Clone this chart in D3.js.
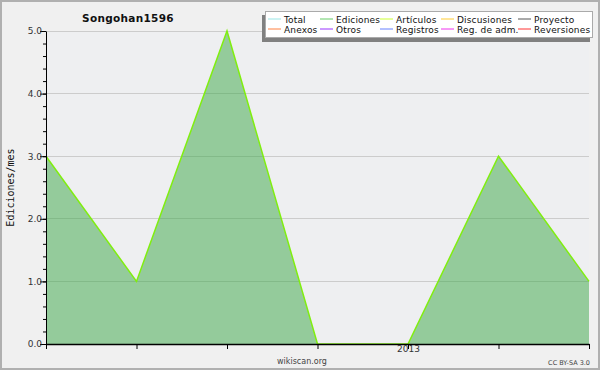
<!DOCTYPE html>
<html>
<head>
<meta charset="utf-8">
<script src="https://cdn.jsdelivr.net/npm/d3@7"></script>
<style>
  body { margin: 0; background: #f0f0f0; }
  svg { display: block; font-family: "DejaVu Sans", sans-serif; }
</style>
</head>
<body>
<div id="chart"></div>
<script>
// data
var months = ["2012-09", "2012-10", "2012-11", "2012-12", "2013-01", "2013-02", "2013-03"];
var edits = [3, 1, 5, 0, 0, 3, 1];
var yTicks = [0, 1, 2, 3, 4, 5];
var legendNames = ["Total", "Ediciones", "Artículos", "Discusiones", "Proyecto",
                   "Anexos", "Otros", "Registros", "Reg. de adm.", "Reversiones"];
var legendColors = ["#99e6e6", "#66cc66", "#ccff33", "#ffcc33", "#555555",
                    "#ff8040", "#9933ff", "#6680ff", "#ee33ee", "#ff3333"];

var w = 600, h = 370;
var m = {left: 46, right: 11, top: 31, bottom: 26};

var svg = d3.select("#chart").append("svg")
    .attr("width", w).attr("height", h);

svg.append("rect").attr("x", 1).attr("y", 1).attr("width", w - 2).attr("height", h - 2)
    .attr("fill", "#f0f0f0").attr("stroke", "#b0b0b0").attr("stroke-width", 2);

var x = d3.scalePoint().domain(months).range([m.left, w - m.right]);
var y = d3.scaleLinear().domain([0, 5]).range([h - m.bottom, m.top]);

// plot background
svg.append("rect")
    .attr("x", m.left).attr("y", m.top)
    .attr("width", w - m.right - m.left).attr("height", h - m.bottom - m.top)
    .attr("fill", "#eeeff1");

// grid
svg.append("g").selectAll("line").data(yTicks.filter(d => d > 0)).join("line")
    .attr("x1", m.left).attr("x2", w - m.right)
    .attr("y1", d => y(d)).attr("y2", d => y(d))
    .attr("stroke", "#cccccc").attr("stroke-width", 1).attr("shape-rendering", "crispEdges");

// area
var area = d3.area()
    .x((d, i) => x(months[i]))
    .y0(y(0))
    .y1(d => y(d));
var line = d3.line()
    .x((d, i) => x(months[i]))
    .y(d => y(d));

svg.append("path").datum(edits)
    .attr("d", area)
    .attr("fill", "#3aa845").attr("fill-opacity", 0.5);
svg.append("path").datum(edits)
    .attr("d", line)
    .attr("fill", "none").attr("stroke", "#80ee10").attr("stroke-width", 1.5);

// y axis
var yAxis = svg.append("g")
    .attr("transform", "translate(" + m.left + ",0)")
    .call(d3.axisLeft(y).tickValues(yTicks).tickFormat(d3.format(".1f")).tickSize(6).tickSizeOuter(0));
yAxis.select(".domain").attr("stroke", "#000");
yAxis.selectAll(".tick line").attr("stroke", "#000");
yAxis.selectAll("text").attr("font-size", 9).attr("fill", "#333").attr("x", -4)
    .attr("font-family", "DejaVu Sans, sans-serif");
svg.append("g")
    .attr("transform", "translate(" + m.left + ",0)")
    .call(d3.axisLeft(y).ticks(25).tickFormat("").tickSize(3).tickSizeOuter(0))
    .call(g => g.select(".domain").remove())
    .selectAll("line").attr("stroke", "#000");

// x axis
var xAxis = svg.append("g")
    .attr("transform", "translate(0," + (h - m.bottom) + ")")
    .call(d3.axisBottom(x).tickSize(5).tickSizeOuter(0)
        .tickFormat(d => d.slice(5) === "01" ? d.slice(0, 4) : ""));
xAxis.select(".domain").attr("stroke", "#000").attr("stroke-width", 1.5);
xAxis.selectAll(".tick line").attr("stroke", "#000");
xAxis.selectAll("text").attr("font-size", 9).attr("fill", "#333").attr("y", 2)
    .attr("font-family", "DejaVu Sans, sans-serif");

// y label
svg.append("text")
    .attr("transform", "translate(14," + ((m.top + h - m.bottom) / 2) + ") rotate(-90)")
    .attr("text-anchor", "middle")
    .attr("font-size", 10).attr("font-family", "DejaVu Sans Mono, monospace")
    .attr("fill", "#111")
    .text("Ediciones/mes");

// title
svg.append("text")
    .attr("x", 128).attr("y", 22)
    .attr("text-anchor", "middle")
    .attr("font-size", 10.5).attr("font-weight", "bold").attr("letter-spacing", 0.3)
    .attr("fill", "#111")
    .text("Songohan1596");

// footer
svg.append("text").attr("x", 302).attr("y", 364).attr("text-anchor", "middle")
    .attr("font-size", 8).attr("fill", "#444").text("wikiscan.org");
svg.append("text").attr("x", 590).attr("y", 365).attr("text-anchor", "end")
    .attr("font-size", 6.5).attr("fill", "#444").text("CC BY-SA 3.0");

// legend
var lg = svg.append("g");
lg.append("rect").attr("x", 262).attr("y", 15).attr("width", 328).attr("height", 27)
    .attr("fill", "#808080");
lg.append("rect").attr("x", 265.5).attr("y", 11.5).attr("width", 327).attr("height", 26)
    .attr("fill", "#fff").attr("stroke", "#aaa");
var colX = [268, 320, 380, 441, 518];
var items = lg.selectAll("g.item").data(legendNames).join("g")
    .attr("class", "item")
    .attr("transform", (d, i) => "translate(" + colX[i % 5] + "," + (i < 5 ? 19 : 29) + ")");
items.append("line").attr("x1", 0).attr("x2", 13).attr("y1", 0).attr("y2", 0)
    .attr("stroke", (d, i) => legendColors[i]).attr("stroke-width", 1);
items.append("text").attr("x", 16).attr("y", 3.5)
    .attr("font-size", 9).attr("letter-spacing", 0.15).attr("fill", "#111")
    .text(d => d);
</script>
</body>
</html>
